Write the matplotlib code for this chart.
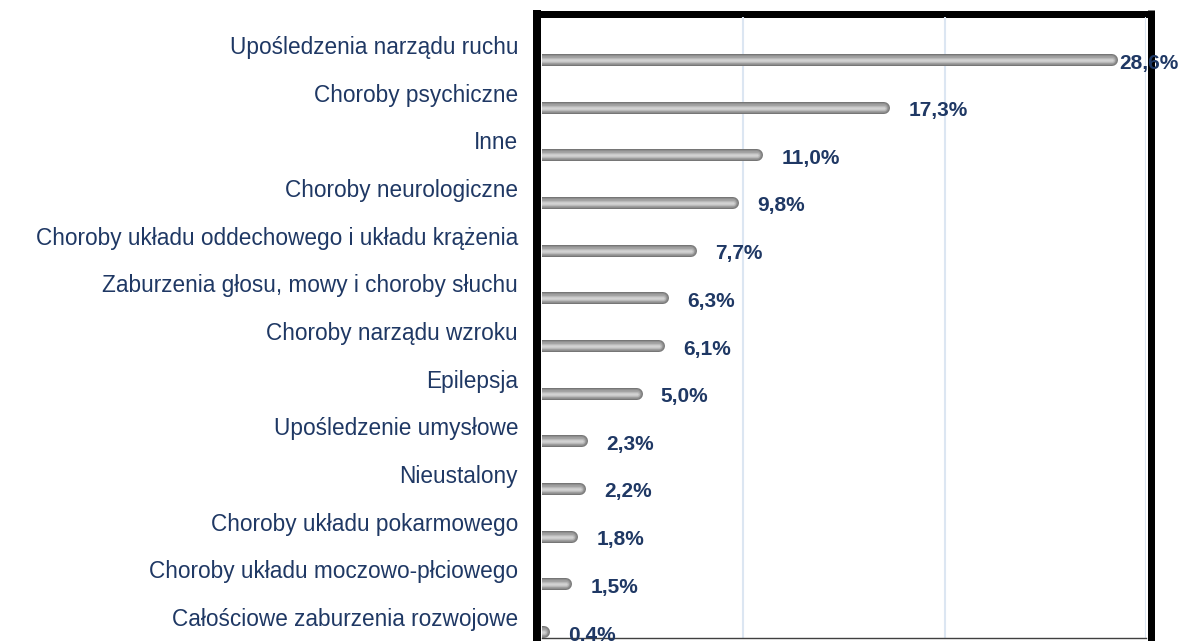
import matplotlib

matplotlib.use("Agg")
import matplotlib.pyplot as plt
from matplotlib.lines import Line2D
from matplotlib.transforms import ScaledTranslation

# --- Data --------------------------------------------------------------------
categories = [
    "Upośledzenia narządu ruchu",
    "Choroby psychiczne",
    "Inne",
    "Choroby neurologiczne",
    "Choroby układu oddechowego i układu krążenia",
    "Zaburzenia głosu, mowy i choroby słuchu",
    "Choroby narządu wzroku",
    "Epilepsja",
    "Upośledzenie umysłowe",
    "Nieustalony",
    "Choroby układu pokarmowego",
    "Choroby układu moczowo-płciowego",
    "Całościowe zaburzenia rozwojowe",
]
values = [28.6, 17.3, 11.0, 9.8, 7.7, 6.3, 6.1, 5.0, 2.3, 2.2, 1.8, 1.5, 0.4]
value_labels = ["28,6%", "17,3%", "11,0%", "9,8%", "7,7%", "6,3%", "6,1%",
                "5,0%", "2,3%", "2,2%", "1,8%", "1,5%", "0,4%"]
grid_ticks = [10, 20, 30]

# --- Layout (pixels) ---------------------------------------------------------
W, H, DPI = 1179, 641, 100
NAVY = "#1f3864"
plt.rcParams["font.family"] = ["Liberation Sans", "DejaVu Sans"]

fig = plt.figure(figsize=(W / DPI, H / DPI), dpi=DPI)
ax_l, ax_r, ax_t, ax_b = 542, 1146, 17, 638
ax = fig.add_axes([ax_l / W, 1 - ax_b / H, (ax_r - ax_l) / W, (ax_b - ax_t) / H])
ax.set_zorder(2)
ax.patch.set_alpha(0)

n = len(categories)
pos = list(range(n))
row_px = (632 - 60) / (n - 1)
ax.set_xlim(0, 30)
ax.set_ylim(n - 1 + (ax_b - 632) / row_px, -(60 - ax_t) / row_px)

px_per_unit = (ax_r - ax_l) / 30.0

# Cylinder-like bars: stacked round-capped strokes, light in the middle.
layers = [(12, "#767676"), (10, "#8e8e8e"), (7.5, "#a4a4a4"), (5, "#b9b9b9"), (2.5, "#d2d2d2")]
cap_r = layers[0][0] / 2 / px_per_unit
for y, v in zip(pos, values):
    end = max(v - cap_r, 0.0)
    for lw_px, col in layers:
        ax.plot([-cap_r, end], [y, y], color=col, lw=lw_px * 72 / DPI,
                solid_capstyle="round", zorder=3)

# Gridlines
for g in grid_ticks:
    ax.axvline(g, color="#dce6f2", lw=1.5, zorder=1)

ax.set_xticks([])
ax.set_yticks(pos)
ax.set_yticklabels(categories, fontsize=16.3, color=NAVY)
ax.tick_params(axis="y", length=0, pad=24 * 72 / DPI)
up = ScaledTranslation(0, 15 / DPI, fig.dpi_scale_trans)
for lab in ax.get_yticklabels():
    lab.set_transform(lab.get_transform() + up)

for s in ["left", "top", "right"]:
    ax.spines[s].set_visible(False)
ax.spines["bottom"].set_color("#404040")
ax.spines["bottom"].set_linewidth(1.0)

# Value labels, pushed back onto the bar end if they would leave the figure
texts = []
for y, v, lab in zip(pos, values, value_labels):
    t = ax.annotate(lab, (v, y), xytext=(18, -3), textcoords="offset pixels",
                    ha="left", va="center", fontsize=15, fontweight="bold",
                    color=NAVY, zorder=5, annotation_clip=False)
    texts.append(t)
fig.canvas.draw()
renderer = fig.canvas.get_renderer()
for t in texts:
    bb = t.get_window_extent(renderer)
    if bb.x1 > W:
        t.set_position((1, -3))

# Thick black frame around the plot area
def fline(x0, y0, x1, y1, w):
    fig.add_artist(Line2D([x0 / W, x1 / W], [1 - y0 / H, 1 - y1 / H],
                          transform=fig.transFigure, color="black",
                          lw=w * 72 / DPI, solid_capstyle="butt", zorder=1))

fline(537, 10, 537, H, 8)
fline(533, 13.5, 1154, 13.5, 7)
fline(1150.5, 10, 1150.5, H, 7)

fig.savefig("out.png", dpi=DPI)
